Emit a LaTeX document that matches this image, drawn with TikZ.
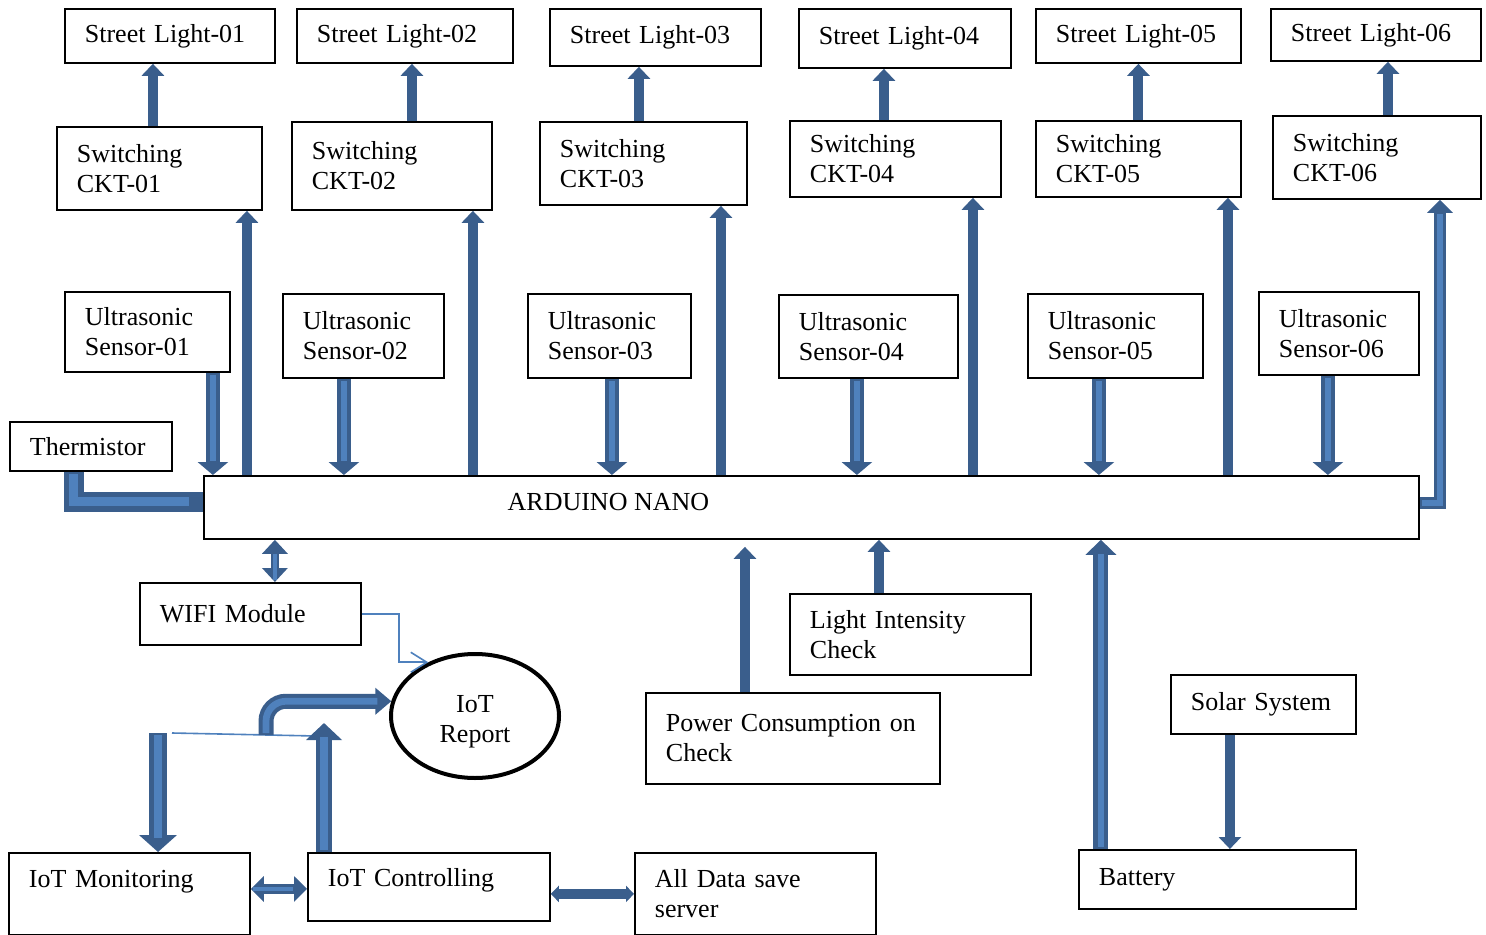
\documentclass[tikz,border=0pt]{standalone}
\usepackage{fontspec}
\setmainfont{Liberation Serif}
\usepackage{tikz}
\usetikzlibrary{arrows.meta,shapes.geometric}
\definecolor{arrdark}{RGB}{58,94,140}
\definecolor{arrlight}{RGB}{79,129,189}

\begin{document}
\begin{tikzpicture}[
    x=0.5pt, y=-0.5pt,
    font=\fontsize{13}{15}\selectfont,
    box_blk/.style={draw, line width=0.9pt, anchor=north west, align=left,
      inner xsep=10pt, inner ysep=0pt},
    box_oval/.style={draw, ellipse, line width=2pt, align=center, inner sep=0pt},
    arr_solid/.style={draw=arrdark, line width=5pt, -{Triangle[width=11pt,length=6pt]}},
    arr_dbl/.style={draw=arrdark, line width=#1, line join=miter,
      postaction={draw=arrlight, line width=0.45*#1, -, shorten >=7pt, shorten <=1pt}},
    arr_sens/.style={arr_dbl=7pt, -{Triangle[width=15pt,length=6.5pt]}},
    link_thin/.style={draw=arrlight, line width=0.8pt}
  ]
    \useasboundingbox (0,0) rectangle (1486,935);

    % street lights
    \node[box_blk, text width=85pt, minimum height=27pt] (sl1) at (64,8) {Street Light-01};
    \node[box_blk, text width=88pt, minimum height=27pt] (sl2) at (296,8) {Street Light-02};
    \node[box_blk, text width=85.5pt, minimum height=28.5pt] (sl3) at (549,8) {Street Light-03};
    \node[box_blk, text width=86pt, minimum height=29.5pt] (sl4) at (798,8) {Street Light-04};
    \node[box_blk, text width=82.5pt, minimum height=27pt] (sl5) at (1035,8) {Street Light-05};
    \node[box_blk, text width=85pt, minimum height=26pt] (sl6) at (1270,8) {Street Light-06};

    % switching circuits
    \node[box_blk, text width=82.5pt, minimum height=41.5pt] (c1) at (56,126) {Switching\\CKT-01};
    \node[box_blk, text width=80pt, minimum height=44pt] (c2) at (291,121) {Switching\\CKT-02};
    \node[box_blk, text width=83.5pt, minimum height=41.5pt] (c3) at (539,121) {Switching\\CKT-03};
    \node[box_blk, text width=85.5pt, minimum height=38pt] (c4) at (789,120) {Switching\\CKT-04};
    \node[box_blk, text width=82.5pt, minimum height=38pt] (c5) at (1035,120) {Switching\\CKT-05};
    \node[box_blk, text width=84pt, minimum height=41.5pt] (c6) at (1272,115) {Switching\\CKT-06};

    % sensors
    \node[box_blk, text width=62.5pt, minimum height=40pt] (s1) at (64,291) {Ultrasonic\\Sensor-01};
    \node[box_blk, text width=60.5pt, minimum height=42pt] (s2) at (282,293) {Ultrasonic\\Sensor-02};
    \node[box_blk, text width=61.5pt, minimum height=42pt] (s3) at (527,293) {Ultrasonic\\Sensor-03};
    \node[box_blk, text width=69.5pt, minimum height=41.5pt] (s4) at (778,294) {Ultrasonic\\Sensor-04};
    \node[box_blk, text width=67.5pt, minimum height=42pt] (s5) at (1027,293) {Ultrasonic\\Sensor-05};
    \node[box_blk, text width=60pt, minimum height=41.5pt] (s6) at (1258,291) {Ultrasonic\\Sensor-06};

    \node[box_blk, text width=61pt, minimum height=24.5pt] (th) at (9,421) {Thermistor};
    \node[box_blk, minimum width=607.5pt, minimum height=31.5pt,
      label={[xshift=-101.5pt, yshift=2.75pt]center:ARDUINO NANO}] (ard) at (203,475) {};

    % lower part
    \node[box_blk, text width=90.5pt, minimum height=31pt] (wifi) at (139,582) {WIFI Module};
    \node[box_oval, minimum width=84pt, minimum height=62pt, text height=29.5pt, text depth=2.8pt] (rep) at (475,716) {IoT\\Report};
    \node[box_blk, text width=100.5pt, minimum height=40.5pt] (li) at (789,593) {Light Intensity\\Check};
    \node[box_blk, text width=127pt, minimum height=45.5pt] (pw) at (645,692) {Power Consumption on\\Check};
    \node[box_blk, text width=72.5pt, minimum height=29.5pt] (sol) at (1170,674) {Solar System};
    \node[box_blk, text width=118.5pt, minimum height=29.5pt] (bat) at (1078,849) {Battery};
    \node[box_blk, text width=100.5pt, minimum height=41pt, text depth=15pt] (mon) at (8,852) {IoT Monitoring};
    \node[box_blk, text width=101pt, minimum height=34pt, text depth=9pt] (ctl) at (307,852) {IoT Controlling};
    \node[box_blk, text width=100.5pt, minimum height=41pt] (srv) at (634,852) {All Data save\\server};

    \coordinate (mon_in) at (158,733);
    \coordinate (ctl_out) at (324,723);
    \coordinate (bus_l) at (172,733);
    \coordinate (bus_r) at (316,736);
    \coordinate (bus_m) at (266,735);

    % switching -> street light
    \draw[arr_solid] ([xshift=-3.25pt]c1.north) -- ([xshift=-3.25pt]c1.north |- sl1.south);
    \draw[arr_solid] ([xshift=10pt]c2.north) -- ([xshift=10pt]c2.north |- sl2.south);
    \draw[arr_solid] ([xshift=-2.25pt]c3.north) -- ([xshift=-2.25pt]c3.north |- sl3.south);
    \draw[arr_solid] ([xshift=-5.75pt]c4.north) -- ([xshift=-5.75pt]c4.north |- sl4.south);
    \draw[arr_solid] (c5.north) -- (c5.north |- sl5.south);
    \draw[arr_solid] ([xshift=5.5pt]c6.north) -- ([xshift=5.5pt]c6.north |- sl6.south);

    % arduino -> switching
    \draw[arr_solid] ([xshift=43.75pt]c1.south |- ard.north) -- ([xshift=43.75pt]c1.south);
    \draw[arr_solid] ([xshift=40.5pt]c2.south |- ard.north) -- ([xshift=40.5pt]c2.south);
    \draw[arr_solid] ([xshift=38.75pt]c3.south |- ard.north) -- ([xshift=38.75pt]c3.south);
    \draw[arr_solid] ([xshift=38.75pt]c4.south |- ard.north) -- ([xshift=38.75pt]c4.south);
    \draw[arr_solid] ([xshift=44.75pt]c5.south |- ard.north) -- ([xshift=44.75pt]c5.south);
    \draw[arr_dbl=6pt, -{Triangle[width=12.5pt,length=6.5pt]}]
      ([yshift=2.25pt]ard.east) -| ([xshift=31.5pt]c6.south);

    % sensors -> arduino
    \draw[arr_sens] ([xshift=32.75pt]s1.south) -- ([xshift=32.75pt]s1.south |- ard.north);
    \draw[arr_sens] ([xshift=-9.75pt]s2.south) -- ([xshift=-9.75pt]s2.south |- ard.north);
    \draw[arr_sens] ([xshift=1.25pt]s3.south) -- ([xshift=1.25pt]s3.south |- ard.north);
    \draw[arr_sens] ([xshift=-5.75pt]s4.south) -- ([xshift=-5.75pt]s4.south |- ard.north);
    \draw[arr_sens] ([xshift=-8.25pt]s5.south) -- ([xshift=-8.25pt]s5.south |- ard.north);
    \draw[arr_sens] ([xshift=-5.5pt]s6.south) -- ([xshift=-5.5pt]s6.south |- ard.north);

    \draw[arr_dbl=10pt] ([xshift=-8.5pt]th.south) |- ([yshift=2.75pt]ard.west);

    % wifi and iot
    \draw[arr_dbl=4pt, {Triangle[width=12.5pt,length=7pt]}-{Triangle[width=12.5pt,length=7pt]}]
      ([xshift=12.25pt]wifi.north) -- ([xshift=12.25pt]wifi.north |- ard.south);
    \draw[link_thin, -{Straight Barb[length=8pt,width=10pt]}] (wifi.east) -- ++(18.5pt,0) |- (rep.131);
    \draw[link_thin] (bus_l) -- (bus_r);
    \draw[arr_dbl=7.5pt, rounded corners=10pt, -{Triangle[width=13pt,length=8pt]}] (bus_m) |- (rep.170);
    \draw[arr_dbl=9pt, -{Triangle[width=18.5pt,length=8.5pt]}] (mon_in) -- (mon_in |- mon.north);
    \draw[arr_dbl=8pt, -{Triangle[width=17.5pt,length=8.5pt]}] (ctl_out |- ctl.north) -- (ctl_out);
    \draw[arr_dbl=5pt, {Triangle[width=12.5pt,length=6.5pt]}-{Triangle[width=12.5pt,length=6.5pt]}]
      ([yshift=2.5pt]mon.east) -- ([yshift=2.5pt]mon.east -| ctl.west);
    \draw[arr_solid, {Triangle[width=8pt,length=4pt]}-{Triangle[width=8pt,length=4pt]}]
      ([yshift=-3.5pt]ctl.east) -- ([yshift=-3.5pt]ctl.east -| srv.west);

    % inputs below the arduino
    \draw[arr_solid, shorten >=3.5pt] ([xshift=-24pt]pw.north) -- ([xshift=-24pt]pw.north |- ard.south);
    \draw[arr_solid] ([xshift=-15.75pt]li.north) -- ([xshift=-15.75pt]li.north |- ard.south);
    \draw[arr_dbl=7.5pt, -{Triangle[width=15pt,length=7.5pt]}]
      ([xshift=-58.25pt]bat.north) -- ([xshift=-58.25pt]bat.north |- ard.south);
    \draw[arr_solid] ([xshift=-16.75pt]sol.south) -- ([xshift=-16.75pt]sol.south |- bat.north);
  \end{tikzpicture}
\end{document}
